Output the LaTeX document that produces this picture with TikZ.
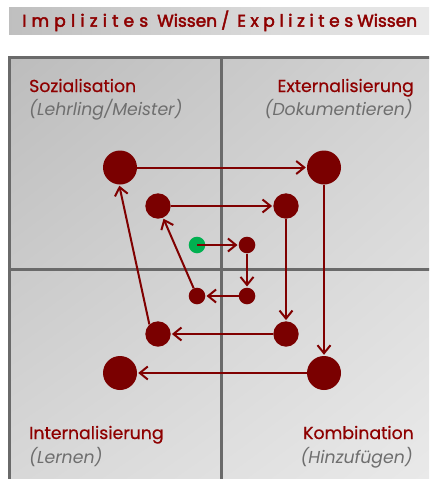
\documentclass[tikz,border=0pt]{standalone}
\usepackage{fontspec}
\setmainfont{Poppins}
\newfontfamily\headfont{Poppins}[FakeBold=2.5]
\newfontfamily\labfont{Poppins}[FakeBold=0.5]
\usetikzlibrary{arrows.meta,shadings}
\definecolor{wine}{HTML}{800000}
\definecolor{dotred}{HTML}{7A0000}
\definecolor{startgreen}{HTML}{00B050}
\definecolor{framegrey}{HTML}{6A6A6A}
\definecolor{subgrey}{HTML}{6E6E6E}
\definecolor{titlered}{HTML}{8E0000}
% letters spread evenly over a given width
\newcommand\spreadword[2]{\makebox[#1][s]{#2}}
\begin{document}
\begin{tikzpicture}[x=1pt,y=-1pt,
  headtxt/.style={inner sep=0pt, anchor=base west, text=titlered, font=\fontsize{17}{19}\headfont},
  lab/.style={inner sep=0pt, text=titlered, font=\fontsize{17.3}{19}\labfont},
  sublab/.style={inner sep=0pt, text=subgrey, font=\fontsize{17.3}{19}\selectfont\itshape},
  bigdot/.style={circle, fill=dotred, inner sep=0pt, minimum size=34pt},
  middot/.style={circle, fill=dotred, inner sep=0pt, minimum size=25.4pt},
  smalldot/.style={circle, fill=dotred, inner sep=0pt, minimum size=16.6pt},
  startdot/.style={circle, fill=startgreen, inner sep=0pt, minimum size=16.6pt},
  flow/.style={draw=wine, line width=2pt, shorten >=1pt,
    -{Straight Barb[length=8pt,width=13pt]}}]
\useasboundingbox (0,0) rectangle (429,479);
\clip (0,0) rectangle (429,479);
\fill[white] (0,0) rectangle (429,479);

% title bar
\shade[left color=black!25, right color=black!8] (9,7.5) rectangle (440,34.5);
\node[headtxt] (t1) at (22,26.7) {\spreadword{126pt}{I\hfill m\hfill p\hfill l\hfill i\hfill z\hfill i\hfill t\hfill e\hfill s}};
\node[headtxt] (t2) at (157,26.7) {Wissen};
\node[headtxt] (t3) at (221,26.7) {/};
\node[headtxt] (t4) at (237,26.7) {\spreadword{116pt}{E\hfill x\hfill p\hfill l\hfill i\hfill z\hfill i\hfill t\hfill e\hfill s}};
\node[headtxt] (t5) at (357,26.7) {Wissen};

% four-field frame
\shade[upper left=black!26, upper right=black!17, lower left=black!15, lower right=black!8]
  (9.5,57.5) rectangle (445,495);
\draw[framegrey, line width=3pt] (9.5,57.5) rectangle (445,495);
\draw[framegrey, line width=3pt] (221.5,57.5) -- (221.5,495);
\draw[framegrey, line width=3pt] (9.5,269.5) -- (445,269.5);

% quadrant labels
\node[lab, anchor=base west] (soz) at (29,92) {Sozialisation};
\node[sublab, anchor=base west] (sozsub) at (29,115) {(Lehrling/Meister)};
\node[lab, anchor=base east] (ext) at (414,92) {Externalisierung};
\node[sublab, anchor=base east] (extsub) at (413,115) {(Dokumentieren)};
\node[lab, anchor=base west] (int) at (29,439) {Internalisierung};
\node[sublab, anchor=base west] (intsub) at (29,463) {(Lernen)};
\node[lab, anchor=base east] (kom) at (414,439) {Kombination};
\node[sublab, anchor=base east] (komsub) at (413,463) {(Hinzufügen)};

% spiral of knowledge
\node[startdot] (g) at (197,245) {};
\node[smalldot] (s1) at (247,245) {};
\node[smalldot] (s2) at (247,296) {};
\node[smalldot] (s3) at (197,296) {};
\node[middot] (m1) at (158,206) {};
\node[middot] (m2) at (286,206) {};
\node[middot] (m3) at (286,334) {};
\node[middot] (m4) at (158,334) {};
\node[bigdot] (b1) at (120,167.5) {};
\node[bigdot] (b2) at (324,167.5) {};
\node[bigdot] (b3) at (324,373) {};
\node[bigdot] (b4) at (120,373) {};

\draw[flow] (g.center) -- (s1);
\draw[flow] (s1) -- (s2);
\draw[flow] (s2) -- (s3);
\draw[flow] (s3) -- (m1);
\draw[flow] (m1) -- (m2);
\draw[flow] (m2) -- (m3);
\draw[flow] (m3) -- (m4);
\draw[flow] (m4.132) -- (b1.-93);
\draw[flow] (b1) -- (b2);
\draw[flow] (b2) -- (b3);
\draw[flow] (b3) -- (b4);
\end{tikzpicture}
\end{document}
